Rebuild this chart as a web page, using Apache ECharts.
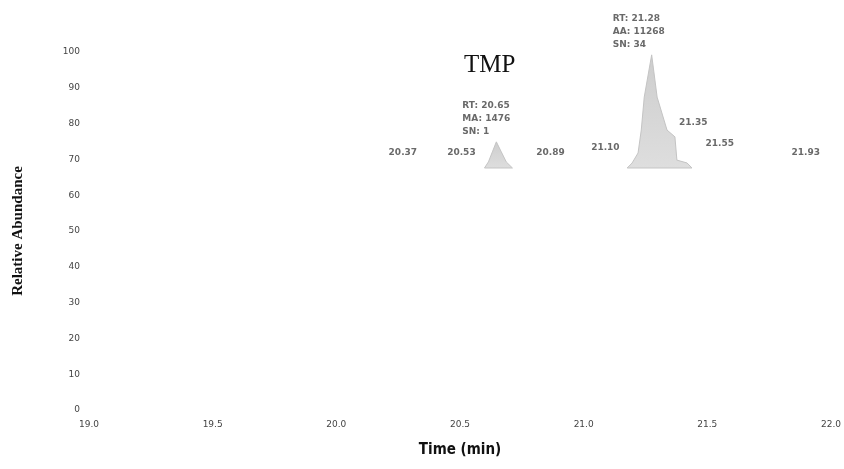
<!DOCTYPE html>
<html><head><meta charset="utf-8">
<script src="https://cdn.jsdelivr.net/npm/echarts@6/dist/echarts.min.js"></script>
<style>html,body{margin:0;padding:0;background:#fff}#c{width:844px;height:469px}</style>
</head><body><div id="c"></div>
<script>
// ---- data ----
const xTickValues = [19.0, 19.5, 20.0, 20.5, 21.0, 21.5, 22.0];
const yTickValues = [0, 10, 20, 30, 40, 50, 60, 70, 80, 90, 100];

const peak1Time  = [20.599, 20.615, 20.631, 20.647, 20.667, 20.687, 20.712];
const peak1Abund = [67.6, 69.3, 72.1, 74.9, 72.1, 69.3, 67.6];

const peak2Time  = [21.176, 21.196, 21.220, 21.233, 21.245, 21.275, 21.297, 21.337, 21.369, 21.377, 21.418, 21.438];
const peak2Abund = [67.6, 69.0, 71.8, 78.2, 87.4, 99.2, 87.4, 78.2, 76.3, 69.8, 69.0, 67.6];

const rtLabels     = ['20.37', '20.53', '20.89', '21.10', '21.35', '21.55', '21.93'];
const rtLabelTime  = [20.37, 20.53, 20.89, 21.10, 21.35, 21.55, 21.93];
const rtLabelAbund = [71.8, 71.8, 71.8, 73.2, 80.2, 74.3, 71.8];

const apexTime  = [20.647, 21.275];
const apexAbund = [74.9, 99.2];
const apexInfo  = [['RT: 20.65', 'MA: 1476', 'SN: 1'], ['RT: 21.28', 'AA: 11268', 'SN: 34']];

const compoundName = 'TMP';

// ---- styles / layout ----
const rtLabelOffsets = [[-25, 0], [-6, 0], [-6, 0], [-3, 0], [23, 0], [0, 0], [-8, 0]];
const apexLabelOffsets = [[-34, 0], [-39, 0]];
const smallFont = { fontFamily: 'DejaVu Sans', fontSize: 9, fontWeight: 'bold', color: '#444' };

function peakSeries(times, abund) {
  return {
    type: 'custom',
    data: times.map((t, i) => [t, abund[i]]),
    encode: { x: 0, y: 1 },
    silent: true,
    renderItem: function (params, api) {
      if (params.dataIndex !== 0) return null;
      const pts = times.map((t, i) => api.coord([t, abund[i]]));
      return {
        type: 'polygon',
        shape: { points: pts },
        style: {
          fill: new echarts.graphic.LinearGradient(0, 0, 0, 1, [
            { offset: 0, color: '#cdcdcd' }, { offset: 1, color: '#dedede' }
          ]),
          stroke: '#c4c4c4', lineWidth: 1
        }
      };
    }
  };
}

const chart = echarts.init(document.getElementById('c'), null, { renderer: 'canvas' });
chart.setOption({
  animation: false,
  backgroundColor: '#fff',
  title: {
    text: compoundName, left: 464, top: 53, padding: 0,
    textStyle: { fontFamily: 'Liberation Serif', fontSize: 25, fontWeight: 'normal', color: '#111' }
  },
  grid: { left: 89, right: 13, top: 52, bottom: 59 },
  xAxis: {
    type: 'value', min: 19.0, max: 22.0, interval: 0.5,
    name: 'Time (min)', nameLocation: 'middle', nameGap: 33,
    nameTextStyle: { fontFamily: "'DejaVu Sans Condensed', 'Liberation Sans Narrow', 'DejaVu Sans', sans-serif", fontSize: 15, fontWeight: 'bold', color: '#111' },
    axisLine: { show: false }, axisTick: { show: false }, splitLine: { show: false },
    axisLabel: {
      margin: 10, fontFamily: 'DejaVu Sans', fontSize: 9, color: '#444',
      customValues: xTickValues,
      formatter: v => v.toFixed(1)
    }
  },
  yAxis: {
    type: 'value', min: 0, max: 100, interval: 10,
    name: 'Relative Abundance', nameLocation: 'middle', nameGap: 63, nameRotate: 90,
    nameTextStyle: { fontFamily: 'Liberation Serif', fontSize: 15, fontWeight: 'bold', color: '#111' },
    axisLine: { show: false }, axisTick: { show: false }, splitLine: { show: false },
    axisLabel: {
      margin: 9, fontFamily: 'DejaVu Sans', fontSize: 9, color: '#444',
      customValues: yTickValues
    }
  },
  series: [
    peakSeries(peak1Time, peak1Abund),
    peakSeries(peak2Time, peak2Abund),
    {
      type: 'scatter', symbolSize: 0, silent: true,
      data: rtLabelTime.map((t, i) => ({
        value: [t, rtLabelAbund[i]],
        label: { offset: rtLabelOffsets[i] }
      })),
      label: Object.assign({
        show: true, position: 'inside',
        formatter: p => rtLabels[p.dataIndex]
      }, smallFont)
    },
    {
      type: 'scatter', symbolSize: 0, silent: true,
      data: apexTime.map((t, i) => ({
        value: [t, apexAbund[i]],
        label: { offset: apexLabelOffsets[i] }
      })),
      label: Object.assign({
        show: true, position: 'top', distance: 4, align: 'left', lineHeight: 13,
        formatter: p => apexInfo[p.dataIndex].join('\n')
      }, smallFont)
    }
  ]
});
</script></body></html>
